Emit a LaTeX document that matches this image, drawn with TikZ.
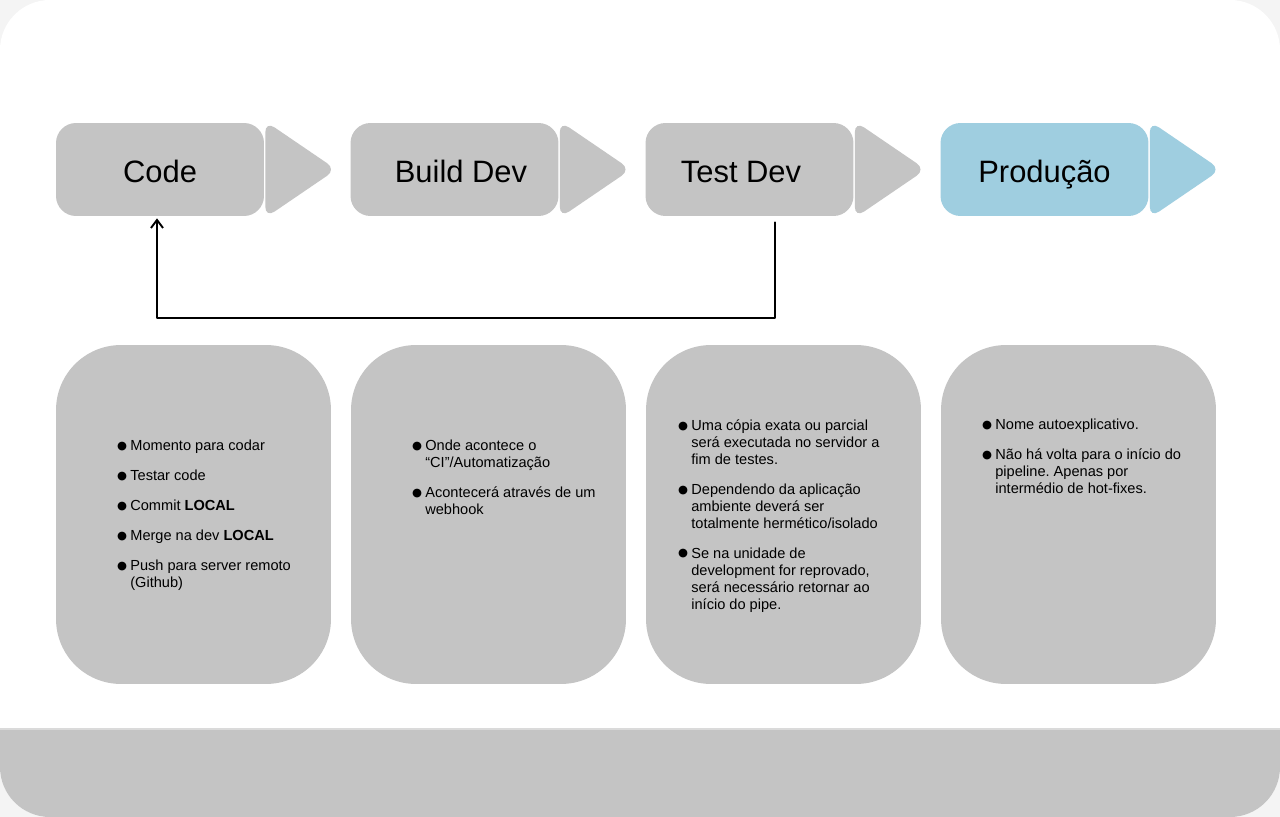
\documentclass[tikz,border=0pt]{standalone}
\usepackage{fontspec}
\setmainfont{Liberation Sans}
\newfontfamily\dotfont{DejaVu Sans}
\usetikzlibrary{arrows.meta}
\definecolor{pipegray}{HTML}{C4C4C4}
\definecolor{pipeblue}{HTML}{9FCEE0}
\definecolor{pagebg}{HTML}{F4F4F4}
\definecolor{seamgray}{HTML}{DADADA}
\frenchspacing
\newcommand{\notedot}{\llap{\raisebox{0.6pt}{\dotfont\fontsize{6.5}{6.5}\selectfont ●}\hspace{1.8pt}}}
\newcommand{\stepchevron}[2]{%
  \fill[#2, rounded corners=0.22cm] ([xshift=0.02cm,yshift=0.03cm]#1.north east)
    -- ([xshift=1.44cm]#1.east) -- ([xshift=0.02cm,yshift=-0.03cm]#1.south east) -- cycle;}

\tikzset{
  stepbox/.style={fill=#1, rounded corners=0.4cm, minimum width=4.16cm,
    minimum height=1.86cm, inner sep=0pt, text height=0.54cm, text depth=0pt,
    font=\fontsize{17.6}{21}\selectfont},
  stepbox/.default=pipegray,
  notebox/.style={fill=pipegray, rounded corners=1.3cm, minimum width=5.5cm,
    minimum height=6.78cm, inner sep=0pt},
  notetext/.style={anchor=north west, inner sep=0pt, align=left,
    font=\fontsize{8.3}{9.67}\selectfont},
  backarrow/.style={draw=black, line width=1.1pt, line cap=round, line join=round,
    -{Straight Barb[length=0.16cm,width=0.24cm]}},
}

\begin{document}
\begin{tikzpicture}[x=0.02cm, y=-0.02cm]
  % page and card
  \fill[pagebg] (0,0) rectangle (1280,817);
  \begin{scope}
    \clip[rounded corners=1cm] (0,0) rectangle (1280,817);
    \fill[white] (0,0) rectangle (1280,817);
    \fill[pipegray] (0,729) rectangle (1280,817);
    \draw[seamgray, line width=0.6pt] (0,729) -- (1280,729);
  \end{scope}

  % pipeline steps
  \node[stepbox] (code) at (160,169.5) {Code};
  \node[stepbox] (builddev) at (454.5,169.5) {\hspace*{0.26cm}Build Dev};
  \node[stepbox] (testdev) at (749.5,169.5) {Test Dev\hspace*{0.34cm}};
  \node[stepbox=pipeblue] (producao) at (1044.5,169.5) {Produção};
  \stepchevron{code}{pipegray}
  \stepchevron{builddev}{pipegray}
  \stepchevron{testdev}{pipegray}
  \stepchevron{producao}{pipeblue}

  % back to the start when the test fails
  \draw[backarrow] ([xshift=0.51cm,yshift=-0.12cm]testdev.south) -- ++(0,-1.92cm)
    -| ([xshift=-0.06cm,yshift=-0.04cm]code.south);

  % notes
  \node[notebox] (codenote) at (193.5,514.5) {};
  \node[notebox] (buildnote) at (488.5,514.5) {};
  \node[notebox] (testnote) at (783.5,514.5) {};
  \node[notebox] (prodnote) at (1078.5,514.5) {};

  \node[notetext] (codetext) at (130,440)
    {\notedot Momento para codar\\[7.4pt]
     \notedot Testar code\\[7.4pt]
     \notedot Commit \textbf{LOCAL}\\[7.4pt]
     \notedot Merge na dev \textbf{LOCAL}\\[7.4pt]
     \notedot Push para server remoto\\
     (Github)};
  \node[notetext] (buildtext) at (425,440)
    {\notedot Onde acontece o\\
     “CI”/Automatização\\[7.4pt]
     \notedot Acontecerá através de um\\
     webhook};
  \node[notetext] (testtext) at (691,419)
    {\notedot Uma cópia exata ou parcial\\
     será executada no servidor a\\
     fim de testes.\\[7.4pt]
     \notedot Dependendo da aplicação\\
     ambiente deverá ser\\
     totalmente hermético/isolado\\[7.4pt]
     \notedot Se na unidade de\\
     development for reprovado,\\
     será necessário retornar ao\\
     início do pipe.};
  \node[notetext] (prodtext) at (995,419)
    {\notedot Nome autoexplicativo.\\[7.4pt]
     \notedot Não há volta para o início do\\
     pipeline. Apenas por\\
     intermédio de hot-fixes.};
\end{tikzpicture}
\end{document}
